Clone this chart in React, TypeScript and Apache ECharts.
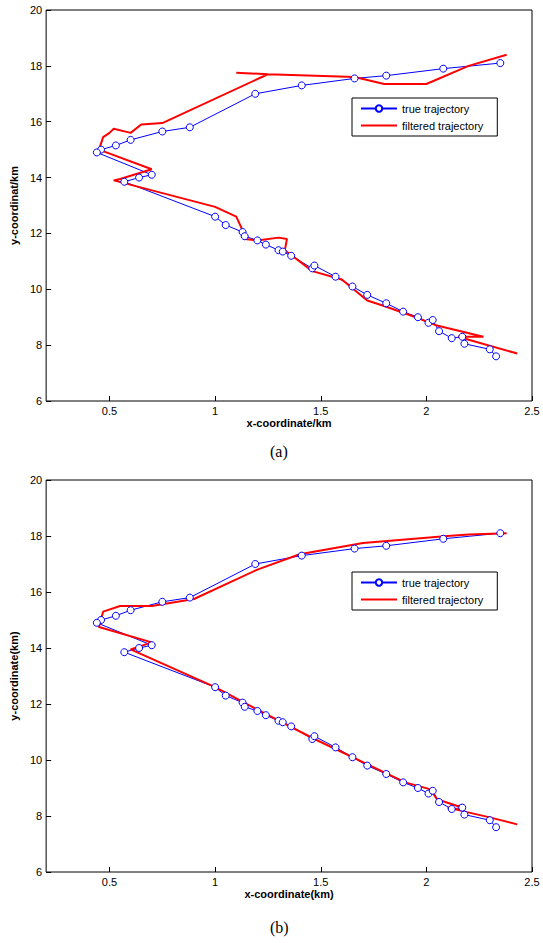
import React, { useEffect, useRef } from "react";
import * as echarts from "echarts";

const trueTraj: number[][] = [
  [2.35, 18.1], [2.08, 17.9], [1.81, 17.65], [1.66, 17.55], [1.41, 17.3], [1.19, 17.0],
  [0.88, 15.8], [0.75, 15.65], [0.6, 15.35], [0.53, 15.15], [0.46, 15.0], [0.44, 14.9],
  [0.7, 14.1], [0.64, 14.0], [0.57, 13.85], [1.0, 12.6], [1.05, 12.3], [1.13, 12.05],
  [1.14, 11.9], [1.2, 11.75], [1.24, 11.6], [1.3, 11.4], [1.32, 11.35], [1.36, 11.2],
  [1.46, 10.75], [1.47, 10.85], [1.57, 10.45], [1.65, 10.1], [1.72, 9.8], [1.81, 9.5],
  [1.89, 9.2], [1.96, 9.0], [2.01, 8.8], [2.03, 8.9], [2.06, 8.5], [2.12, 8.25],
  [2.17, 8.3], [2.18, 8.05], [2.3, 7.85], [2.33, 7.6],
];

const filteredA: number[][] = [
  [2.38, 18.4], [2.2, 18.0], [2.0, 17.35], [1.8, 17.35], [1.66, 17.6], [1.25, 17.7],
  [1.1, 17.75], [1.25, 17.7], [0.75, 15.95], [0.65, 15.9], [0.6, 15.6], [0.52, 15.75],
  [0.5, 15.6], [0.47, 15.45], [0.45, 15.0], [0.7, 14.3], [0.55, 13.95], [0.52, 13.9],
  [1.0, 12.95], [1.1, 12.6], [1.14, 11.95], [1.14, 11.8], [1.2, 11.75], [1.3, 11.85],
  [1.34, 11.8], [1.33, 11.4], [1.4, 11.0], [1.46, 10.65], [1.6, 10.35], [1.72, 9.6],
  [1.8, 9.4], [1.95, 9.0], [2.05, 8.7], [2.27, 8.3], [2.15, 8.3], [2.43, 7.7],
];

const filteredB: number[][] = [
  [2.38, 18.1], [2.2, 18.05], [2.1, 18.0], [1.7, 17.75], [1.4, 17.35], [1.2, 16.8],
  [0.9, 15.75], [0.7, 15.5], [0.55, 15.5], [0.47, 15.3], [0.45, 14.75], [0.7, 14.2],
  [0.6, 13.95], [1.0, 12.6], [1.2, 11.8], [1.47, 10.75], [1.9, 9.2], [2.02, 8.95],
  [2.05, 8.6], [2.15, 8.35], [2.17, 8.4], [2.18, 8.2], [2.1, 8.3], [2.3, 7.95], [2.43, 7.7],
];

const xTicks = [0.5, 1, 1.5, 2, 2.5];
const seriesNames = ["true trajectory", "filtered trajectory"];

export default function App() {
  const ref = useRef<HTMLDivElement>(null);
  useEffect(() => {
    document.body.style.margin = "0";
    const chart = echarts.init(ref.current!, null, { renderer: "svg" });
    const font = "Liberation Sans, Arial, sans-serif";
    const mkX = (i: number, name: string) => ({
      type: "value", gridIndex: i, min: 0.2, max: 2.5,
      name, nameLocation: "middle", nameGap: 16,
      nameTextStyle: { fontFamily: font, fontSize: 11, fontWeight: "bold", color: "#000" },
      axisLine: { show: false },
      axisTick: { inside: true, length: 5, lineStyle: { color: "#000" }, customValues: xTicks },
      axisLabel: { fontFamily: font, fontSize: 11, color: "#000", margin: 4, customValues: xTicks },
      splitLine: { show: false },
    });
    const mkY = (i: number, name: string) => ({
      type: "value", gridIndex: i, min: 6, max: 20, interval: 2,
      name, nameLocation: "middle", nameGap: 22,
      nameTextStyle: { fontFamily: font, fontSize: 11, fontWeight: "bold", color: "#000" },
      axisLine: { show: false },
      axisTick: { inside: true, length: 5, lineStyle: { color: "#000" } },
      axisLabel: { fontFamily: font, fontSize: 11, color: "#000", margin: 4 },
      splitLine: { show: false },
    });
    const trueS = (i: number) => ({
      name: seriesNames[0], type: "line", xAxisIndex: i, yAxisIndex: i,
      data: trueTraj, symbol: "circle", symbolSize: 7, showSymbol: true,
      itemStyle: { color: "#fff", borderColor: "#0000ff", borderWidth: 1 },
      lineStyle: { color: "#0000ff", width: 1 }, color: "#0000ff",
    });
    const filtS = (i: number, data: number[][]) => ({
      name: seriesNames[1], type: "line", xAxisIndex: i, yAxisIndex: i,
      data, symbol: "none", lineStyle: { color: "#ff0000", width: 2 }, color: "#ff0000",
    });
    const legend = (top: number) => ({
      data: [
        { name: seriesNames[0] },
        { name: seriesNames[1], icon: "path://M0,0H36V2H0Z" },
      ],
      orient: "vertical", left: 352, top, width: 168,
      backgroundColor: "#fff", borderColor: "#000", borderWidth: 1,
      padding: [5, 14, 5, 8], itemGap: 6, itemWidth: 36, itemHeight: 8,
      textStyle: { fontFamily: font, fontSize: 11, color: "#000" },
    });
    chart.setOption({
      animation: false,
      backgroundColor: "#fff",
      grid: [
        { left: 45, top: 10, width: 487, height: 391, show: true, borderColor: "#000", borderWidth: 1 },
        { left: 45, top: 480, width: 487, height: 392, show: true, borderColor: "#000", borderWidth: 1 },
      ],
      xAxis: [mkX(0, "x-coordinate/km"), mkX(1, "x-coordinate(km)")],
      yAxis: [mkY(0, "y-coordinat/km"), mkY(1, "y-coordinate(km)")],
      legend: [legend(98), legend(572)],
      series: [trueS(0), filtS(0, filteredA), trueS(1), filtS(1, filteredB)],
      graphic: [
        { type: "text", left: 270, top: 443, style: { text: "(a)", font: "16px 'Liberation Serif', serif", fill: "#000" } },
        { type: "text", left: 270, top: 919, style: { text: "(b)", font: "16px 'Liberation Serif', serif", fill: "#000" } },
      ],
    });
    return () => chart.dispose();
  }, []);
  return <div ref={ref} style={{ width: 543, height: 943 }} />;
}
